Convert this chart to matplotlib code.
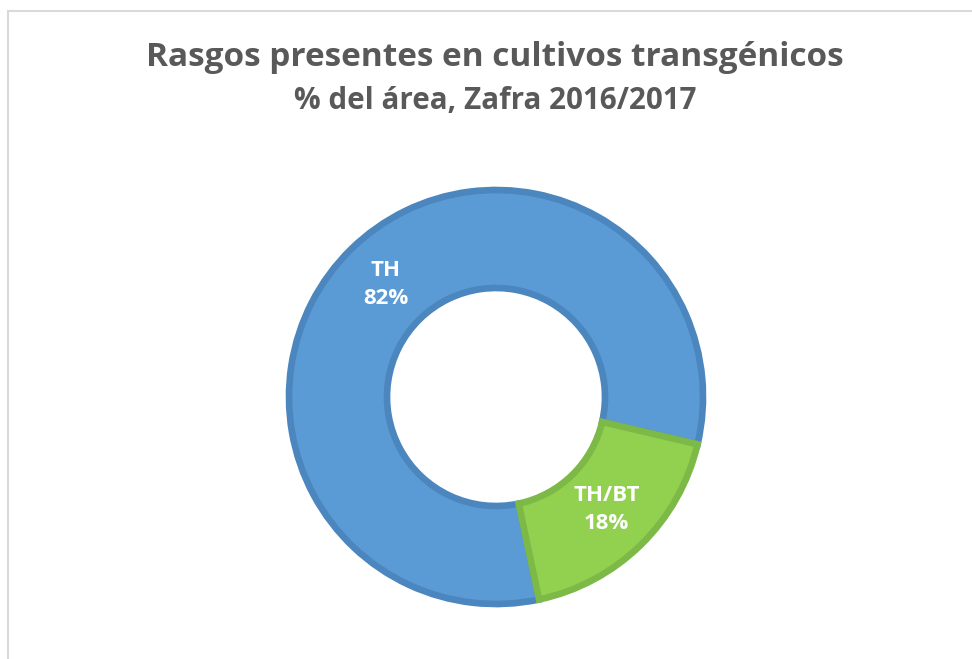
"""Donut chart: traits present in transgenic crops, 2016/2017 harvest."""

import matplotlib
matplotlib.use("Agg")
import matplotlib.pyplot as plt
import matplotlib.patches as patches
import numpy as np

# Data
categories = ["TH", "TH/BT"]
shares = [82, 18]

title = "Rasgos presentes en cultivos transgénicos"
subtitle = "% del área, Zafra 2016/2017"

plt.rcParams["font.family"] = ["Open Sans", "DejaVu Sans"]

W, H = 972, 659
fig = plt.figure(figsize=(W / 100, H / 100), dpi=100)

# light gray chart frame (right and bottom edges run off the picture)
frame = patches.Rectangle((8 / W, -0.1), 1.2, 1.1 - 11 / H, transform=fig.transFigure,
                          fill=False, edgecolor="#D9D9D9", linewidth=1.5)
fig.patches.append(frame)

fig.text(495 / W, 1 - 57 / H, title, ha="center", va="center",
         fontsize=24, fontweight="bold", color="#595959")
fig.text(495 / W, 1 - 101 / H, subtitle, ha="center", va="center",
         fontsize=21.3, fontweight="bold", color="#595959")

# square axes centred on the donut
cx, cy, side = 496, 397, 440
ax = fig.add_axes([(cx - side / 2) / W, (H - cy - side / 2) / H, side / W, side / H])

fills = ["#5B9BD5", "#92D050"]
edges = ["#4C86BE", "#7DB947"]

outer, ring = 1.035, 0.49
wedges, _ = ax.pie(shares, radius=outer, startangle=-78, counterclock=False,
                   colors=fills, wedgeprops=dict(width=ring, linewidth=4.8))
for w, ec in zip(wedges, edges):
    w.set_edgecolor(ec)
    w.set_joinstyle("miter")

ax.set_xlim(-1.1, 1.1)
ax.set_ylim(-1.1, 1.1)
ax.set_aspect("equal")
ax.axis("off")

mid_r = outer - ring / 2
for w, name, val in zip(wedges, categories, shares):
    ang = np.deg2rad((w.theta1 + w.theta2) / 2)
    ax.text(mid_r * np.cos(ang), mid_r * np.sin(ang), f"{name}\n{val}%",
            ha="center", va="center", fontsize=16, fontweight="bold",
            color="white", linespacing=1.45)

fig.savefig("out.png", dpi=100)
